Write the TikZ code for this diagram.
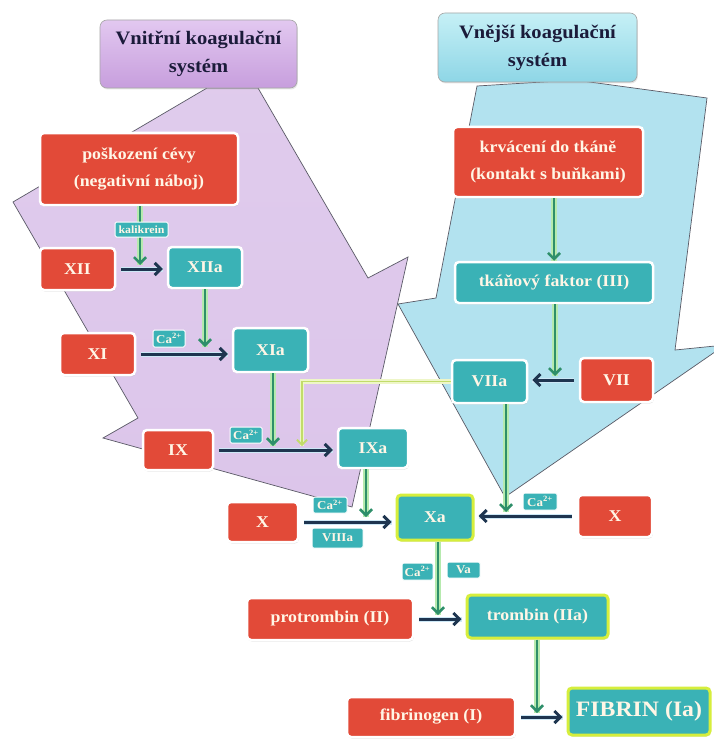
\documentclass[tikz,border=0pt]{standalone}
\usepackage{fontspec}
\setmainfont{Liberation Serif}[FakeStretch=1.08]
\usetikzlibrary{arrows.meta,shadows}
\definecolor{boxred}{HTML}{E24A38}
\definecolor{boxteal}{HTML}{3AB2B6}
\definecolor{arrnavy}{HTML}{1E3550}
\definecolor{arrgreen}{HTML}{2E8F6A}
\definecolor{glowgreen}{HTML}{B6EAAE}
\definecolor{glowblue}{HTML}{CDE8F6}
\definecolor{purplebg}{HTML}{DAC2E9}
\definecolor{cyanbg}{HTML}{B2E2EF}
\definecolor{hdrpurpletop}{HTML}{E2C8F0}
\definecolor{hdrpurplebot}{HTML}{C79EDD}
\definecolor{hdrcyantop}{HTML}{C6F0F6}
\definecolor{hdrcyanbot}{HTML}{8ED6E6}
\definecolor{yborder}{HTML}{D6EE3C}
\definecolor{lineyel}{HTML}{C2DC6A}
\definecolor{glowyel}{HTML}{EEF6C8}
\definecolor{txtlight}{HTML}{FFF6E6}
\definecolor{hdrtext}{HTML}{1B1B3A}
\definecolor{polyline}{HTML}{5A5A66}
\tikzset{
  box/.style={rounded corners=4pt, draw=white, line width=2.5pt, text=txtlight,
    font=\bfseries\fontsize{16.5}{27}\selectfont, align=center, inner sep=0pt,
    drop shadow={opacity=0.25, shadow xshift=0.8pt, shadow yshift=-1.5pt}},
  redbox/.style={box, fill=boxred},
  tealbox/.style={box, fill=boxteal},
  keybox/.style={tealbox, draw=yborder, line width=3pt},
  tag/.style={fill=boxteal, draw=white, line width=1pt, rounded corners=1.5pt,
    text=txtlight, font=\bfseries\fontsize{12}{12}\selectfont, inner sep=0pt},
  hdr/.style={rounded corners=7pt, draw=gray!70, line width=0.6pt, text=hdrtext,
    font=\bfseries\fontsize{19}{28}\selectfont, align=center, inner sep=0pt,
    drop shadow={opacity=0.2, shadow xshift=0.8pt, shadow yshift=-1.5pt}},
  darr/.style={draw=arrnavy, line width=3pt, -{Straight Barb[length=6pt,width=12pt]},
    shorten <=5pt, shorten >=4pt,
    preaction={draw=glowblue, line width=5pt, -}},
  garr/.style={draw=arrgreen, line width=2.6pt, -{Straight Barb[length=6pt,width=12pt]},
    preaction={draw=glowgreen, line width=6pt, -}},
  yarr/.style={draw=lineyel, line width=1.8pt, -{Straight Barb[length=5pt,width=10pt]},
    preaction={draw=glowyel, line width=4.5pt, -}},
  bgarrow/.style={draw=polyline, line width=0.7pt, line join=miter}
}
\begin{document}
\begin{tikzpicture}[x=1pt,y=-1pt]
\fill[white] (0,0) rectangle (713,749);
\useasboundingbox (0,0) rectangle (713,749);

% background block arrows
\path[bgarrow, top color=purplebg!85, bottom color=purplebg!100!violet!95] (207,88) -- (13,202) -- (138,418) -- (103,438) -- (352,507)
  -- (408,257) -- (368,278) -- (258,88) -- cycle;
\path[bgarrow, fill=cyanbg] (477,86) -- (436,298) -- (398,304) -- (505,497) -- (725,345)
  -- (675,350) -- (707,98) -- (575,80) -- cycle;

% headers
\node[hdr, top color=hdrpurpletop, bottom color=hdrpurplebot, minimum width=197pt, minimum height=68pt]
  (hdrL) at (198.5,54) {Vnitřní koagulační\\systém};
\node[hdr, top color=hdrcyantop, bottom color=hdrcyanbot, minimum width=199pt, minimum height=69pt]
  (hdrR) at (537.5,47.5) {Vnější koagulační\\systém};

% boxes
\node[redbox, minimum width=198pt, minimum height=72pt] (posk) at (139,169) {poškození cévy\\(negativní náboj)};
\node[redbox, minimum width=190pt, minimum height=70pt] (krv) at (548,162) {krvácení do tkáně\\(kontakt s buňkami)};
\node[redbox, minimum width=75pt, minimum height=42pt] (XII) at (77.5,269) {XII};
\node[tealbox, minimum width=74pt, minimum height=41pt] (XIIa) at (205,267.5) {XIIa};
\node[redbox, minimum width=75pt, minimum height=42pt] (XI) at (97.5,354) {XI};
\node[tealbox, minimum width=75pt, minimum height=44pt] (XIa) at (270.5,350) {XIa};
\node[redbox, minimum width=70pt, minimum height=40pt] (IX) at (178,450) {IX};
\node[tealbox, minimum width=70pt, minimum height=40pt] (IXa) at (373,448) {IXa};
\node[tealbox, minimum width=198pt, minimum height=41pt] (tf) at (554,282.5) {tkáňový faktor (III)};
\node[tealbox, minimum width=75pt, minimum height=43pt] (VIIa) at (489.5,381.5) {VIIa};
\node[redbox, minimum width=73pt, minimum height=44pt] (VII) at (616.5,380) {VII};
\node[redbox, minimum width=71pt, minimum height=40pt] (XL) at (262.5,522) {X};
\node[keybox, minimum width=76pt, minimum height=45pt] (Xa) at (435,517.5) {Xa};
\node[redbox, minimum width=74pt, minimum height=42pt] (XR) at (615,516) {X};
\node[redbox, minimum width=166pt, minimum height=42pt] (protr) at (330,619) {protrombin (II)};
\node[keybox, minimum width=141pt, minimum height=43pt] (tromb) at (537.5,616.5) {trombin (IIa)};
\node[redbox, minimum width=168pt, minimum height=40pt] (fibg) at (431,717) {fibrinogen (I)};
\node[keybox, minimum width=142pt, minimum height=47pt, font=\bfseries\fontsize{22}{24}\selectfont] (fibrin) at (639,711.5) {FIBRIN (Ia)};

% coordinates where vertical arrows meet the reactions
\coordinate (k1) at (140,265);
\coordinate (k2) at (205,347);
\coordinate (k3) at (273,446);
\coordinate (k4) at (555,376);
\coordinate (k5) at (366,517);
\coordinate (k6) at (506,512);
\coordinate (k7) at (438,615);
\coordinate (k8) at (537,713);
\coordinate (yl) at (302,446);

% horizontal reaction arrows
\draw[darr] (XII.east) -- (XII.east -| XIIa.west);
\draw[darr] (XI.east) -- (XI.east -| XIa.west);
\draw[darr] (IX.east) -- (IX.east -| IXa.west);
\draw[darr] (XL.east) -- (XL.east -| Xa.west);
\draw[darr] (XR.west) -- (XR.west -| Xa.east);
\draw[darr] (VII.west) -- (VII.west -| VIIa.east);
\draw[darr] (protr.east) -- (protr.east -| tromb.west);
\draw[darr] (fibg.east) -- (fibg.east -| fibrin.west);

% vertical activation arrows
\draw[garr] (posk.south -| k1) -- (k1);
\draw[garr] (XIIa.south -| k2) -- (k2);
\draw[garr] (XIa.south -| k3) -- (k3);
\draw[garr] (krv.south -| tf.north) -- (tf.north);
\draw[garr] (tf.south -| k4) -- (k4);
\draw[garr] (IXa.south -| k5) -- (k5);
\draw[garr] (VIIa.south -| k6) -- (k6);
\draw[garr] (Xa.south -| k7) -- (k7);
\draw[garr] (tromb.south -| k8) -- (k8);
\draw[yarr] (VIIa.west) -| (yl);

% cofactor tags
\node[tag, minimum width=53pt, minimum height=15pt, font=\bfseries\fontsize{11}{11}\selectfont] (kal) at (141.5,229.5) {kalikrein};
\node[tag, minimum width=32pt, minimum height=17pt] (ca1) at (169,338.5) {Ca\textsuperscript{2+}};
\node[tag, minimum width=32pt, minimum height=16pt] (ca2) at (246,435) {Ca\textsuperscript{2+}};
\node[tag, minimum width=34pt, minimum height=16pt] (ca3) at (330,505) {Ca\textsuperscript{2+}};
\node[tag, minimum width=51pt, minimum height=20pt] (viii) at (337.5,538) {VIIIa};
\node[tag, minimum width=34pt, minimum height=17pt] (ca4) at (540,501.5) {Ca\textsuperscript{2+}};
\node[tag, minimum width=31pt, minimum height=17pt] (ca5) at (417.5,571.5) {Ca\textsuperscript{2+}};
\node[tag, minimum width=33pt, minimum height=16pt] (va) at (463.5,570) {Va};
\end{tikzpicture}
\end{document}
